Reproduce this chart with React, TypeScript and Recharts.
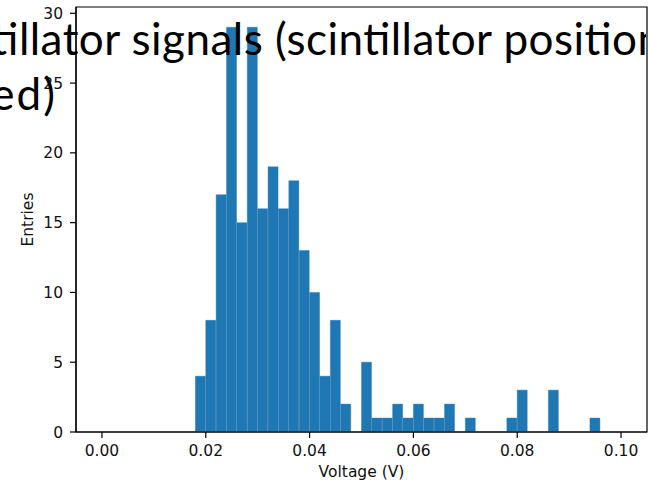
import React from 'react';
import { BarChart, Bar, XAxis, YAxis, ReferenceArea, Label } from 'recharts';

// Histogram bin centres (V), bin width 0.002 V
const binCenters = [
  0.001, 0.003, 0.005, 0.007, 0.009, 0.011, 0.013, 0.015, 0.017, 0.019,
  0.021, 0.023, 0.025, 0.027, 0.029, 0.031, 0.033, 0.035, 0.037, 0.039,
  0.041, 0.043, 0.045, 0.047, 0.049, 0.051, 0.053, 0.055, 0.057, 0.059,
  0.061, 0.063, 0.065, 0.067, 0.069, 0.071, 0.073, 0.075, 0.077, 0.079,
  0.081, 0.083, 0.085, 0.087, 0.089, 0.091, 0.093, 0.095, 0.097, 0.099,
];
const entries = [
  0, 0, 0, 0, 0, 0, 0, 0, 0, 4,
  8, 17, 29, 15, 29, 16, 19, 16, 18, 13,
  10, 4, 8, 2, 0, 5, 1, 1, 2, 1,
  2, 1, 1, 2, 0, 1, 0, 0, 0, 1,
  3, 0, 0, 3, 0, 0, 0, 1, 0, 0,
];
const xTicks = [0, 0.02, 0.04, 0.06, 0.08, 0.1];
const yTicks = [0, 5, 10, 15, 20, 25, 30];
const xDomain = [-0.005, 0.105];
const yDomain = [0, 30.45];
const titleLine1 = 'tillator signals (scintillator position';
const titleLine2 = 'ed)';

const data = binCenters.map((x, i) => ({ x, n: entries[i] }));

const tickFont = { fontFamily: 'DejaVu Sans', fontSize: 15.5, fill: '#111' };

export default function App() {
  return (
    <div style={{ position: 'absolute', left: 0, top: 0, width: 648, height: 482, background: '#fff' }}>
      <BarChart
        width={648}
        height={482}
        data={data}
        margin={{ top: 7, right: 1, bottom: 0, left: 0 }}
        barCategoryGap={0}
        barGap={0}
      >
        <XAxis
          dataKey="x"
          type="number"
          domain={xDomain}
          allowDataOverflow
          ticks={xTicks}
          tickFormatter={(v: number) => v.toFixed(2)}
          height={50}
          tickSize={6}
          tickMargin={7}
          tick={tickFont}
          axisLine={{ stroke: '#000', strokeWidth: 1.2 }}
          tickLine={{ stroke: '#000', strokeWidth: 1.2 }}
          interval={0}
        >
          <Label value="Voltage (V)" position="insideBottom" offset={5} style={{ fontFamily: 'DejaVu Sans', fontSize: 15.5, fill: '#111' }} />
        </XAxis>
        <YAxis
          type="number"
          domain={yDomain}
          allowDataOverflow
          ticks={yTicks}
          width={76}
          tickSize={6}
          tickMargin={7}
          tick={tickFont}
          axisLine={{ stroke: '#000', strokeWidth: 1.2 }}
          tickLine={{ stroke: '#000', strokeWidth: 1.2 }}
          interval={0}
        >
          <Label value="Entries" angle={-90} position="insideLeft" offset={27} style={{ textAnchor: 'middle', fontFamily: 'DejaVu Sans', fontSize: 15.5, fill: '#111' }} />
        </YAxis>
        <Bar dataKey="n" fill="#1f77b4" stroke="#1f77b4" strokeWidth={0.4} isAnimationActive={false} />
        <ReferenceArea x1={xDomain[0]} x2={xDomain[1]} y1={yDomain[0]} y2={yDomain[1]} fill="none" stroke="#000" strokeWidth={1.2} fillOpacity={0} />
      </BarChart>
      <svg width={646} height={482} style={{ position: 'absolute', left: 0, top: 0, pointerEvents: 'none', overflow: 'hidden' }}>
        <text x={-8.7} y={55} fontFamily="Lato" fontSize={44} fill="#000" textLength={670.8} lengthAdjust="spacing">{titleLine1}</text>
        <text x={-8.7} y={110} fontFamily="Lato" fontSize={44} fill="#000" textLength={63.6} lengthAdjust="spacing">{titleLine2}</text>
      </svg>
    </div>
  );
}
